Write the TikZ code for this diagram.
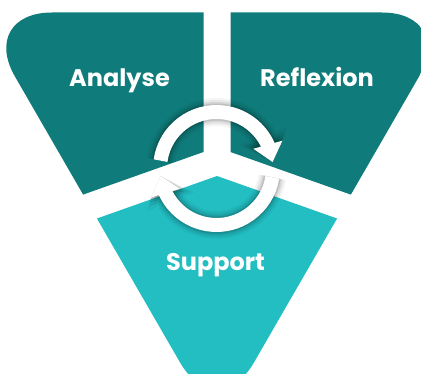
\documentclass[tikz,border=0pt]{standalone}
\usepackage{fontspec}
\newfontfamily\labelfont{Poppins}
\usetikzlibrary{arrows.meta,bending}
\definecolor{darkteal}{HTML}{0F7B7A}
\definecolor{lightteal}{HTML}{22BEC2}
\tikzset{
  lbl/.style={text=white, font=\labelfont\bfseries\fontsize{24}{28}\selectfont, anchor=base, inner sep=0pt},
  ringarrow/.style={line width=14pt, -{Triangle[length=18pt,width=29pt]}},
  ringshadow/.style 2 args={line width=14pt+#1pt, -{Triangle[length=18pt+0.7*#1pt,width=29pt+1.4*#1pt]},
    draw=black, opacity=#2, shift={(1.5,2.5)}},
}
\begin{document}
\begin{tikzpicture}[x=1pt,y=-1pt]
\useasboundingbox (0,0) rectangle (421,374);
\clip (0,0) rectangle (421,374);
\begin{scope}
  \clip[rounded corners=74pt] (217,12.5) -- (456,12.5) -- (217,426.5) -- (-22,12.5) -- cycle;
  \fill[darkteal] (-50,-50) -- (203.5,-50) -- (203.5,152) -- (-50,241.7) -- cycle;
  \fill[darkteal] (230.5,-50) -- (480,-50) -- (480,240.3) -- (230.5,152) -- cycle;
  \fill[lightteal] (217,176) -- (480,269.1) -- (480,500) -- (-50,500) -- (-50,270.5) -- cycle;
\end{scope}
\coordinate (C) at (216.5,168.5);
% soft shadow
\foreach \k/\o in {14/0.04,10/0.06,6/0.08,3/0.1,0/0.12}{
  \draw[ringshadow={\k}{\o}] ([shift={(-172:56.5)}]C) arc[start angle=-172, end angle=-6.5, radius=56.5];
  \draw[ringshadow={\k}{\o}] ([shift={(9:56.5)}]C) arc[start angle=9, end angle=172.5, radius=56.5];
}
\draw[ringarrow, draw=white] ([shift={(-172:56.5)}]C) arc[start angle=-172, end angle=-6.5, radius=56.5];
\draw[ringarrow, draw=white] ([shift={(9:56.5)}]C) arc[start angle=9, end angle=172.5, radius=56.5];
\node[lbl] (analyse) at (119.5,87) {Analyse};
\node[lbl] (reflexion) at (317,87) {Reflexion};
\node[lbl] (support) at (215.5,271) {Support};
\end{tikzpicture}
\end{document}
